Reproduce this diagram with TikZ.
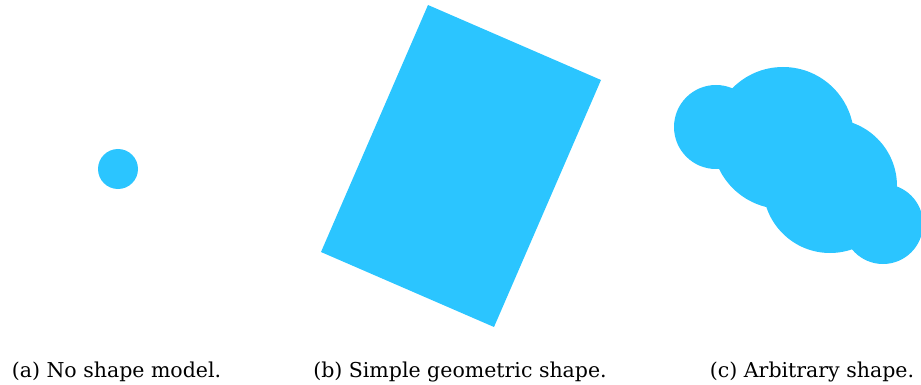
\documentclass[tikz,border=0pt]{standalone}
\usepackage{fontspec}
\setmainfont{DejaVu Serif}
\definecolor{shapeblue}{RGB}{43,197,255}
\begin{document}
\begin{tikzpicture}[x=1pt,y=-1pt,
  blob/.style={fill=shapeblue,draw=none},
  captext/.style={font=\fontsize{20.5}{24}\selectfont,inner sep=0pt,anchor=base}]
\useasboundingbox (0,0) rectangle (921,385);
% (a)
\fill[blob] (118,169) circle[radius=20];
% (b)
\fill[blob] (428,5) -- (601,80) -- (494,327) -- (321,252) -- cycle;
% (c)
\begin{scope}
\clip (0,0) rectangle (921,385);
\fill[blob] (716,127) circle[radius=42];
\fill[blob] (783,138) circle[radius=71];
\fill[blob] (830,186) circle[radius=67];
\fill[blob] (883,224) circle[radius=40];
\end{scope}
\node[captext] (capa) at (116.5,377) {(a) No shape model.};
\node[captext] (capb) at (460,377) {(b) Simple geometric shape.};
\node[captext] (capc) at (812,377) {(c) Arbitrary shape.};
\end{tikzpicture}
\end{document}
